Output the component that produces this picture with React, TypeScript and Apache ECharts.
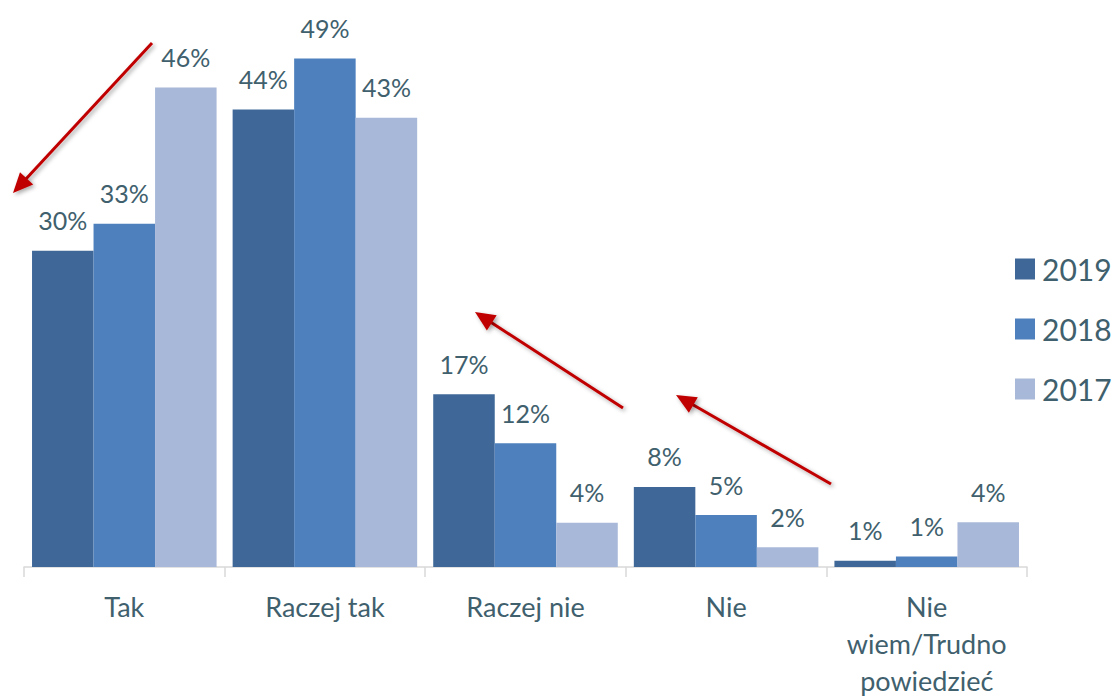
import React, { useEffect, useRef } from "react";
import * as echarts from "echarts";

const categories = ["Tak", "Raczej tak", "Raczej nie", "Nie", "Nie\nwiem/Trudno\npowiedzieć"];
const seriesNames = ["2019", "2018", "2017"];
const values2019 = [30.4, 44.0, 16.6, 7.7, 0.6];
const values2018 = [33.0, 48.9, 11.9, 5.0, 1.0];
const values2017 = [46.1, 43.2, 4.25, 1.9, 4.3];
const colors = ["#3F6899", "#4E80BD", "#A8B8D8"];

// annotation arrows: [tailX, tailY, tipX, tipY]
const arrows = [
  [152, 43, 13, 193],
  [623, 408, 475, 312],
  [831, 484, 676, 395],
];

const TEXT = "#40606D";
const FONT = "Lato";

function arrowGraphics() {
  const out: any[] = [];
  const shadow = {
    shadowBlur: 4,
    shadowColor: "rgba(0,0,0,0.35)",
    shadowOffsetX: 2,
    shadowOffsetY: 2,
  };
  arrows.forEach(([x1, y1, x2, y2]) => {
    const dx = x2 - x1;
    const dy = y2 - y1;
    const len = Math.sqrt(dx * dx + dy * dy);
    const ux = dx / len;
    const uy = dy / len;
    const L = 20;
    const W = 9;
    const bx = x2 - ux * L;
    const by = y2 - uy * L;
    const nx = -uy;
    const ny = ux;
    out.push({
      type: "line",
      shape: { x1, y1, x2: bx + ux * 2, y2: by + uy * 2 },
      style: { stroke: "#C00000", lineWidth: 3, ...shadow },
      z: 100,
    });
    out.push({
      type: "polygon",
      shape: {
        points: [
          [x2, y2],
          [bx + nx * W, by + ny * W],
          [bx - nx * W, by - ny * W],
        ],
      },
      style: { fill: "#C00000", ...shadow },
      z: 100,
    });
  });
  return out;
}

export default function App() {
  const ref = useRef<HTMLDivElement>(null);
  useEffect(() => {
    if (!ref.current) return;
    const chart = echarts.init(ref.current, null, { renderer: "svg" });
    const data = [values2019, values2018, values2017];
    chart.setOption({
      animation: false,
      backgroundColor: "#ffffff",
      textStyle: { fontFamily: FONT },
      grid: { left: 24, right: 89, top: 47, bottom: 131, outerBoundsMode: "none", containLabel: false },
      legend: {
        orient: "vertical",
        left: 1010,
        top: 247,
        itemWidth: 20,
        itemHeight: 21,
        itemGap: 26,
        icon: "rect",
        data: seriesNames,
        textStyle: { fontSize: 30, color: TEXT, fontFamily: FONT, lineHeight: 34, padding: [0, 0, 0, 2] },
      },
      xAxis: {
        type: "category",
        data: categories,
        axisLine: { lineStyle: { color: "#D9D9D9", width: 1.5 } },
        axisTick: { show: true, length: 10, lineStyle: { color: "#D9D9D9", width: 1.5 } },
        axisLabel: {
          color: TEXT,
          fontSize: 27,
          fontFamily: FONT,
          margin: 21,
          lineHeight: 37,
          interval: 0,
        },
      },
      yAxis: {
        type: "value",
        min: 0,
        max: 50,
        show: false,
        splitLine: { show: false },
      },
      series: seriesNames.map((name, i) => ({
        name,
        type: "bar",
        data: data[i],
        barGap: "0%",
        barCategoryGap: "8%",
        itemStyle: { color: colors[i] },
        label: {
          show: true,
          position: "top",
          distance: 18,
          color: TEXT,
          fontSize: 25,
          fontFamily: FONT,
          formatter: (p: any) => Math.round(p.value) + "%",
        },
      })),
      graphic: arrowGraphics(),
    });
    return () => chart.dispose();
  }, []);
  return (
    <div
      ref={ref}
      style={{ position: "absolute", left: 0, top: 0, width: 1116, height: 698 }}
    />
  );
}
